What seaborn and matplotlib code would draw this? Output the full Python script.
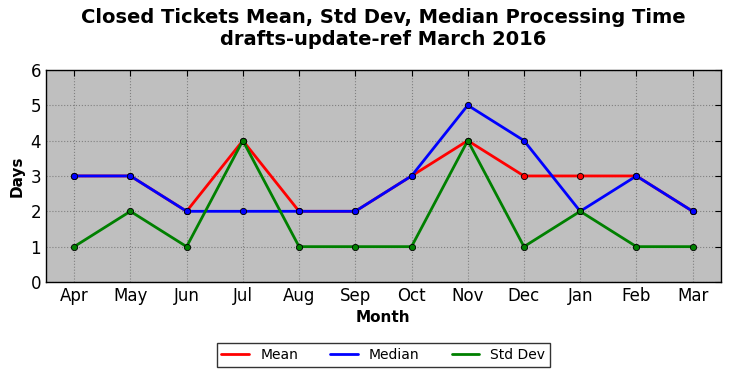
import pandas as pd
import seaborn as sns
import matplotlib
matplotlib.use("Agg")
import matplotlib.pyplot as plt

months = ["Apr", "May", "Jun", "Jul", "Aug", "Sep", "Oct", "Nov", "Dec", "Jan", "Feb", "Mar"]
mean_days = [3, 3, 2, 4, 2, 2, 3, 4, 3, 3, 3, 2]
median_days = [3, 3, 2, 2, 2, 2, 3, 5, 4, 2, 3, 2]
std_days = [1, 2, 1, 4, 1, 1, 1, 4, 1, 2, 1, 1]

sns.set_style("darkgrid", {"axes.facecolor": "#bfbfbf", "grid.color": "#808080",
                           "grid.linestyle": ":", "axes.edgecolor": "black",
                           "xtick.direction": "in", "ytick.direction": "in",
                           "text.color": "black", "axes.labelcolor": "black",
                           "xtick.color": "black", "ytick.color": "black"})
plt.rcParams['font.family'] = ['DejaVu Sans']

df = pd.DataFrame({
    "Month": months * 3,
    "Days": mean_days + median_days + std_days,
    "stat": ["Mean"] * 12 + ["Median"] * 12 + ["Std Dev"] * 12,
})
df["pos"] = list(range(12)) * 3

fig, ax = plt.subplots(figsize=(7.31, 3.78), dpi=100)
fig.subplots_adjust(left=0.063, right=0.986, top=0.815, bottom=0.254)

sns.lineplot(data=df, x="pos", y="Days", hue="stat",
             palette={"Mean": "#ff0000", "Median": "#0000ff", "Std Dev": "#008000"},
             marker="o", markersize=4.5, markeredgecolor="black", markeredgewidth=0.6,
             linewidth=2, ax=ax, legend=True)

ax.set_xlim(-0.5, 11.5)
ax.set_ylim(0, 6)
ax.set_xticks(range(12))
ax.set_xticklabels(months)
ax.set_yticks(range(7))
ax.tick_params(labelsize=12, length=4, color="black", labelcolor="black", top=True, right=True)
ax.grid(True, linestyle=":", color="#808080", linewidth=0.8)
for s in ax.spines.values():
    s.set_visible(True)
    s.set_color("black")
    s.set_linewidth(1)

ax.set_xlabel("Month", fontsize=11, fontweight="bold", color="black")
ax.set_ylabel("Days", fontsize=11, fontweight="bold", color="black")
ax.set_title("Closed Tickets Mean, Std Dev, Median Processing Time\ndrafts-update-ref March 2016",
             fontsize=14, fontweight="bold", pad=18, color="black")

handles, labels = ax.get_legend_handles_labels()
for h in handles:
    h.set_marker("")
leg = ax.legend(handles, labels, loc="upper center", bbox_to_anchor=(0.5, -0.255), ncol=3,
                fontsize=10, frameon=True, fancybox=False, edgecolor="black",
                columnspacing=2.3, handlelength=2, borderpad=0.35)
leg.get_frame().set_facecolor("white")
leg.get_frame().set_linewidth(1)
for t in leg.get_texts():
    t.set_color("black")

fig.savefig("out.png", dpi=100)
